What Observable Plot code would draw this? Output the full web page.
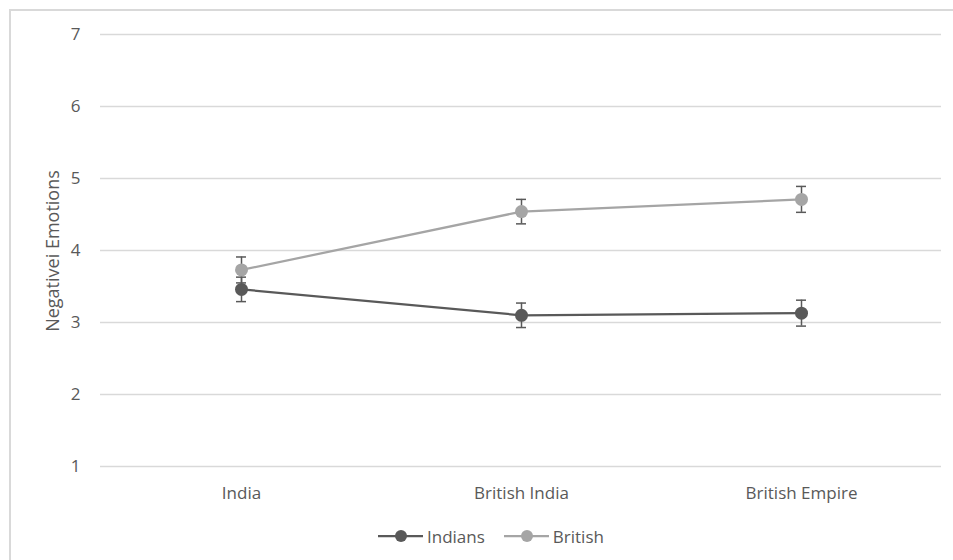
<!DOCTYPE html>
<html><head><meta charset="utf-8">
<script src="https://cdn.jsdelivr.net/npm/d3@7"></script>
<script src="https://cdn.jsdelivr.net/npm/@observablehq/plot@0.6"></script>
<style>
body{margin:0;background:#fff;font-family:"Open Sans",sans-serif;}
#wrap{position:relative;width:953px;height:560px;overflow:hidden;background:#fff;}
#frame{position:absolute;left:9px;top:9px;width:980px;height:600px;border-left:2px solid #d9d9d9;border-top:2px solid #d9d9d9;pointer-events:none;}
#chart{position:absolute;left:0;top:0;}
#ylabel{position:absolute;left:52px;top:251px;transform:translate(-50%,-50%) rotate(-90deg);white-space:nowrap;font-size:18px;color:#595959;}
#legend{position:absolute;left:378px;top:524px;height:24px;display:flex;align-items:center;font-size:17px;color:#595959;}
.item{display:flex;align-items:center;margin-right:19px;}
.item span{margin-left:4px;}
</style></head><body>
<div id="wrap"><div id="frame"></div><div id="chart"></div><div id="ylabel"></div><div id="legend"></div></div>
<script>
const categories = ["India", "British India", "British Empire"];
const series = ["Indians", "British"];
const indiansMean = [3.46, 3.10, 3.13];
const indiansErr = [0.17, 0.17, 0.18];
const britishMean = [3.73, 4.54, 4.71];
const britishErr = [0.18, 0.17, 0.18];
const yTicks = [1, 2, 3, 4, 5, 6, 7];
const seriesColors = ["#595959", "#a5a5a5"];
const yLabel = "Negativei Emotions";

const data = [];
categories.forEach((c, i) => {
  data.push({series: "Indians", cat: c, mean: indiansMean[i], err: indiansErr[i]});
  data.push({series: "British", cat: c, mean: britishMean[i], err: britishErr[i]});
});
const errColor = "#595959";

const chart = Plot.plot({
  width: 953, height: 510,
  marginLeft: 100, marginRight: 12, marginTop: 34, marginBottom: 44,
  style: {fontFamily: "Open Sans, sans-serif", fontSize: "17px", color: "#595959", background: "transparent"},
  x: {type: "point", domain: categories, padding: 0.5, label: null},
  y: {domain: [1, 7], label: null},
  color: {domain: series, range: seriesColors},
  marks: [
    Plot.gridY(yTicks, {stroke: "#d9d9d9", strokeOpacity: 1, strokeWidth: 1.5}),
    Plot.axisY(yTicks, {tickSize: 0, tickPadding: 20, label: null, tickFormat: d3.format("d")}),
    Plot.axisX({tickSize: 0, tickPadding: 20, label: null}),
    Plot.ruleX(data, {x: "cat", y1: d => d.mean - d.err, y2: d => d.mean + d.err, stroke: errColor, strokeWidth: 1.5}),
    Plot.ruleY(data, {x1: "cat", x2: "cat", y: d => d.mean - d.err, insetLeft: -5, insetRight: -5, stroke: errColor, strokeWidth: 1.5}),
    Plot.ruleY(data, {x1: "cat", x2: "cat", y: d => d.mean + d.err, insetLeft: -5, insetRight: -5, stroke: errColor, strokeWidth: 1.5}),
    Plot.line(data.filter(d => d.series === "British"), {x: "cat", y: "mean", stroke: "series", strokeWidth: 2.25}),
    Plot.dot(data.filter(d => d.series === "British"), {x: "cat", y: "mean", fill: "series", r: 6.5}),
    Plot.line(data.filter(d => d.series === "Indians"), {x: "cat", y: "mean", stroke: "series", strokeWidth: 2.25}),
    Plot.dot(data.filter(d => d.series === "Indians"), {x: "cat", y: "mean", fill: "series", r: 6.5})
  ]
});
document.getElementById("chart").appendChild(chart);
document.getElementById("ylabel").textContent = yLabel;

const legend = document.getElementById("legend");
series.forEach((s, i) => {
  const item = document.createElement("div");
  item.className = "item";
  item.innerHTML = `<svg width="45" height="14"><line x1="0" x2="45" y1="7" y2="7" stroke="${seriesColors[i]}" stroke-width="2.25"/><circle cx="23" cy="7" r="6" fill="${seriesColors[i]}"/></svg><span>${s}</span>`;
  legend.appendChild(item);
});
</script>
</body></html>
